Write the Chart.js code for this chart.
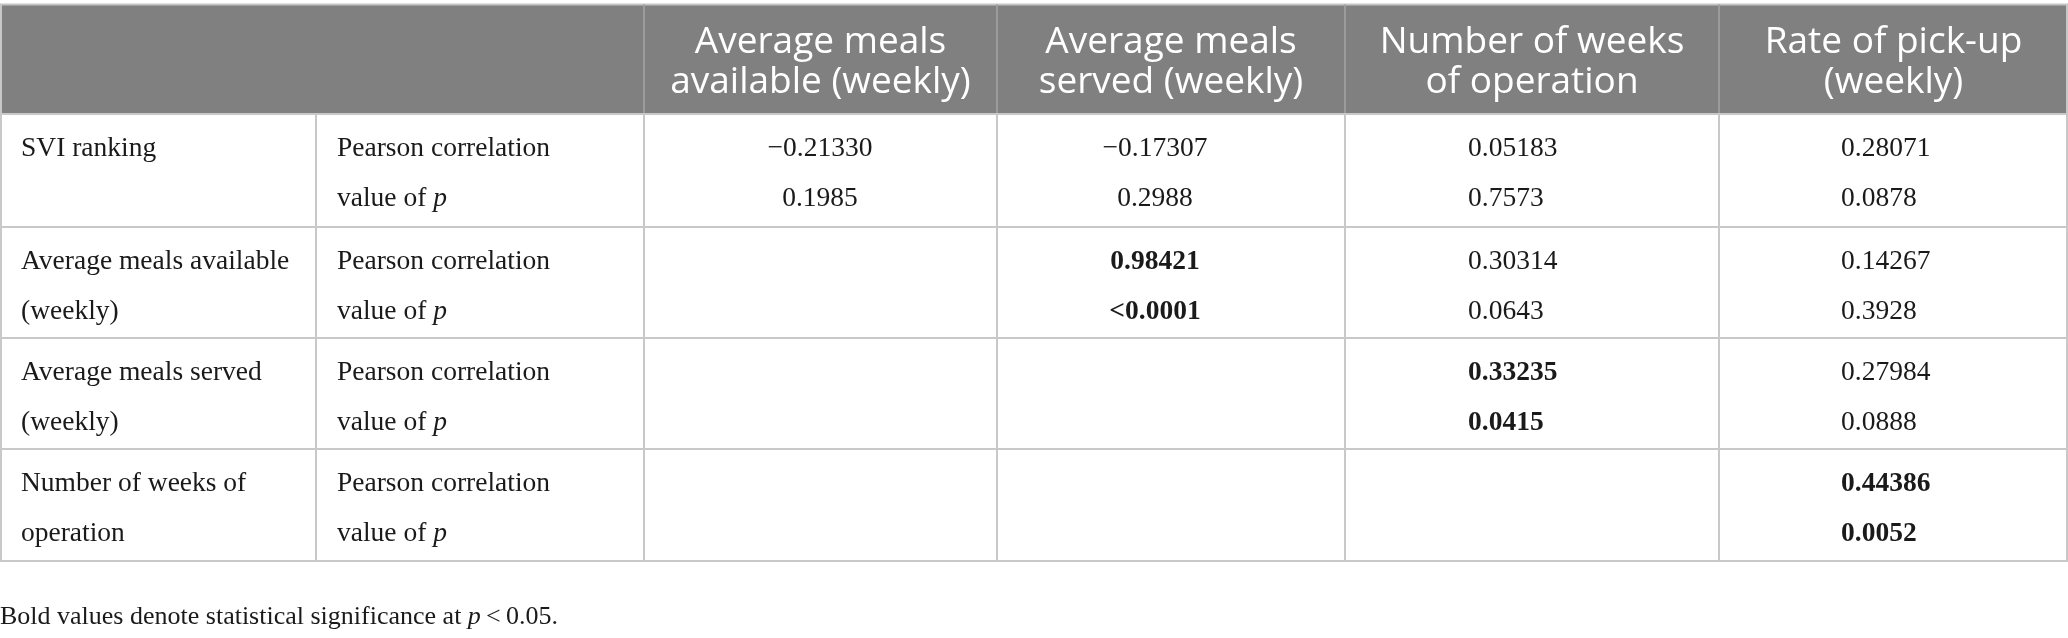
<!DOCTYPE html>
<html>
<head>
<meta charset="utf-8">
<script src="https://cdn.jsdelivr.net/npm/chart.js@4/dist/chart.umd.min.js"></script>
<style>
  html, body { margin: 0; padding: 0; background: #ffffff; }
  #wrap { width: 2068px; height: 638px; }
</style>
</head>
<body>
<div id="wrap"><canvas id="c" width="2068" height="638"></canvas></div>
<script>
// ---------- data ----------
const columnHeaders = [
  ["Average meals", "available (weekly)"],
  ["Average meals", "served (weekly)"],
  ["Number of weeks", "of operation"],
  ["Rate of pick-up", "(weekly)"]
];
const rowLabels = [
  ["SVI ranking"],
  ["Average meals available", "(weekly)"],
  ["Average meals served", "(weekly)"],
  ["Number of weeks of", "operation"]
];
const statLabels = ["Pearson correlation", "value of p"];
const pearsonR = [
  [-0.21330, -0.17307, 0.05183, 0.28071],
  [null,      0.98421, 0.30314, 0.14267],
  [null,      null,    0.33235, 0.27984],
  [null,      null,    null,    0.44386]
];
const pValues = [
  ["0.1985", "0.2988",  "0.7573", "0.0878"],
  [null,     "<0.0001", "0.0643", "0.3928"],
  [null,     null,      "0.0415", "0.0888"],
  [null,     null,      null,     "0.0052"]
];
const alpha = 0.05;
const footnote = "Bold values denote statistical significance at p < 0.05.";

// ---------- layout (table geometry in scale units) ----------
const W = 2068, H = 638;
const colEdges = [0, 316, 644, 997, 1345, 1719, 2068];
const tableTop = 4, headerBottom = 114;
const rowEdges = [114, 227, 338, 449, 561];
const valueAnchor = [   // per value column: alignment and anchor x
  { align: "center", x: 820 },
  { align: "center", x: 1155 },
  { align: "left",   x: 1468 },
  { align: "left",   x: 1841 }
];
const padLeft = 21;
const line1Offset = 42, line2Offset = 92;
const headerBase = [53, 93];
const footBase = 624;

const serif = "'Liberation Serif', 'Times New Roman', serif";
const sans = "'Open Sans', 'Noto Sans', sans-serif";
const fsBody = 27.5, fsHead = 37, fsFoot = 26;

function fmtR(v) {
  return (v < 0 ? "\u2212" : "") + Math.abs(v).toFixed(5);
}
function isSig(p) {
  if (p === null) return false;
  return parseFloat(p.replace("<", "")) < alpha;
}

// draw a run of segments [{t, style}] starting at x (baseline y)
function drawRich(ctx, segs, x, y, size, align) {
  let total = 0;
  segs.forEach(s => { ctx.font = (s.style || "") + " " + size + "px " + serif; total += ctx.measureText(s.t).width; });
  let cx = align === "center" ? x - total / 2 : x;
  ctx.textAlign = "left";
  segs.forEach(s => {
    ctx.font = (s.style || "") + " " + size + "px " + serif;
    ctx.fillText(s.t, cx, y);
    cx += ctx.measureText(s.t).width;
  });
}
function withItalicP(text) {
  const parts = text.split(/(\bp\b)/);
  return parts.filter(t => t.length).map(t => ({ t: t, style: t === "p" ? "italic" : "" }));
}

const tablePlugin = {
  id: "tablePlugin",
  beforeDraw(chart) {
    const ctx = chart.ctx;
    const xs = chart.scales.x, ys = chart.scales.y;
    const X = v => xs.getPixelForValue(v);
    const Y = v => ys.getPixelForValue(v);
    ctx.save();
    ctx.fillStyle = "#ffffff";
    ctx.fillRect(0, 0, chart.width, chart.height);

    // header band
    ctx.fillStyle = "#7f807f";
    ctx.fillRect(X(colEdges[0]), Y(tableTop), X(colEdges[6]) - X(colEdges[0]), Y(headerBottom) - Y(tableTop));

    // header top line
    ctx.strokeStyle = "#c4c4c4";
    ctx.lineWidth = 2;
    ctx.beginPath();
    ctx.moveTo(X(colEdges[0]), Y(tableTop) + 0.5);
    ctx.lineTo(X(colEdges[6]), Y(tableTop) + 0.5);
    ctx.stroke();

    // header separators
    ctx.strokeStyle = "#a3a4a3";
    ctx.lineWidth = 1.5;
    for (let c = 2; c <= 5; c++) {
      ctx.beginPath();
      ctx.moveTo(X(colEdges[c]), Y(tableTop));
      ctx.lineTo(X(colEdges[c]), Y(headerBottom));
      ctx.stroke();
    }

    // body grid
    ctx.strokeStyle = "#c8c8c8";
    ctx.lineWidth = 2;
    rowEdges.forEach(r => {
      ctx.beginPath();
      ctx.moveTo(X(colEdges[0]), Y(r));
      ctx.lineTo(X(colEdges[6]), Y(r));
      ctx.stroke();
    });
    colEdges.forEach((c, i) => {
      let px = X(c);
      if (i === 0) px += 1;
      if (i === colEdges.length - 1) px -= 1;
      ctx.beginPath();
      ctx.moveTo(px, Y(i === 0 || i === colEdges.length - 1 ? tableTop : headerBottom));
      ctx.lineTo(px, Y(rowEdges[rowEdges.length - 1]));
      ctx.stroke();
    });

    // header text
    ctx.fillStyle = "#ffffff";
    ctx.textAlign = "center";
    ctx.textBaseline = "alphabetic";
    ctx.font = fsHead + "px " + sans;
    columnHeaders.forEach((lines, i) => {
      const cx = (X(colEdges[i + 2]) + X(colEdges[i + 3])) / 2;
      lines.forEach((ln, k) => ctx.fillText(ln, cx, Y(headerBase[k])));
    });

    // body text
    ctx.fillStyle = "#1a1a1a";
    rowLabels.forEach((lines, r) => {
      const top = rowEdges[r];
      const bases = [Y(top + line1Offset), Y(top + line2Offset)];
      lines.forEach((ln, k) => drawRich(ctx, [{ t: ln }], X(colEdges[0] + padLeft), bases[k], fsBody, "left"));
      statLabels.forEach((ln, k) => drawRich(ctx, withItalicP(ln), X(colEdges[1] + padLeft), bases[k], fsBody, "left"));
      for (let c = 0; c < 4; c++) {
        const rv = pearsonR[r][c], pv = pValues[r][c];
        if (rv === null) continue;
        const bold = isSig(pv) ? "bold" : "";
        const a = valueAnchor[c];
        drawRich(ctx, [{ t: fmtR(rv), style: bold }], X(a.x), bases[0], fsBody, a.align);
        drawRich(ctx, [{ t: pv, style: bold }], X(a.x), bases[1], fsBody, a.align);
      }
    });

    // footnote
    drawRich(ctx, withItalicP(footnote).map(s => ({ t: s.t.replace(" < ", "\u2009<\u2009"), style: s.style })),
             X(0), Y(footBase), fsFoot, "left");
    ctx.restore();
  }
};

new Chart(document.getElementById("c"), {
  type: "scatter",
  data: { datasets: [{ data: [], showLine: false }] },
  options: {
    responsive: false,
    animation: false,
    devicePixelRatio: 1,
    layout: { padding: 0 },
    plugins: { legend: { display: false }, tooltip: { enabled: false } },
    scales: {
      x: { type: "linear", min: 0, max: W, display: false },
      y: { type: "linear", min: 0, max: H, reverse: true, display: false }
    }
  },
  plugins: [tablePlugin]
});
</script>
</body>
</html>
